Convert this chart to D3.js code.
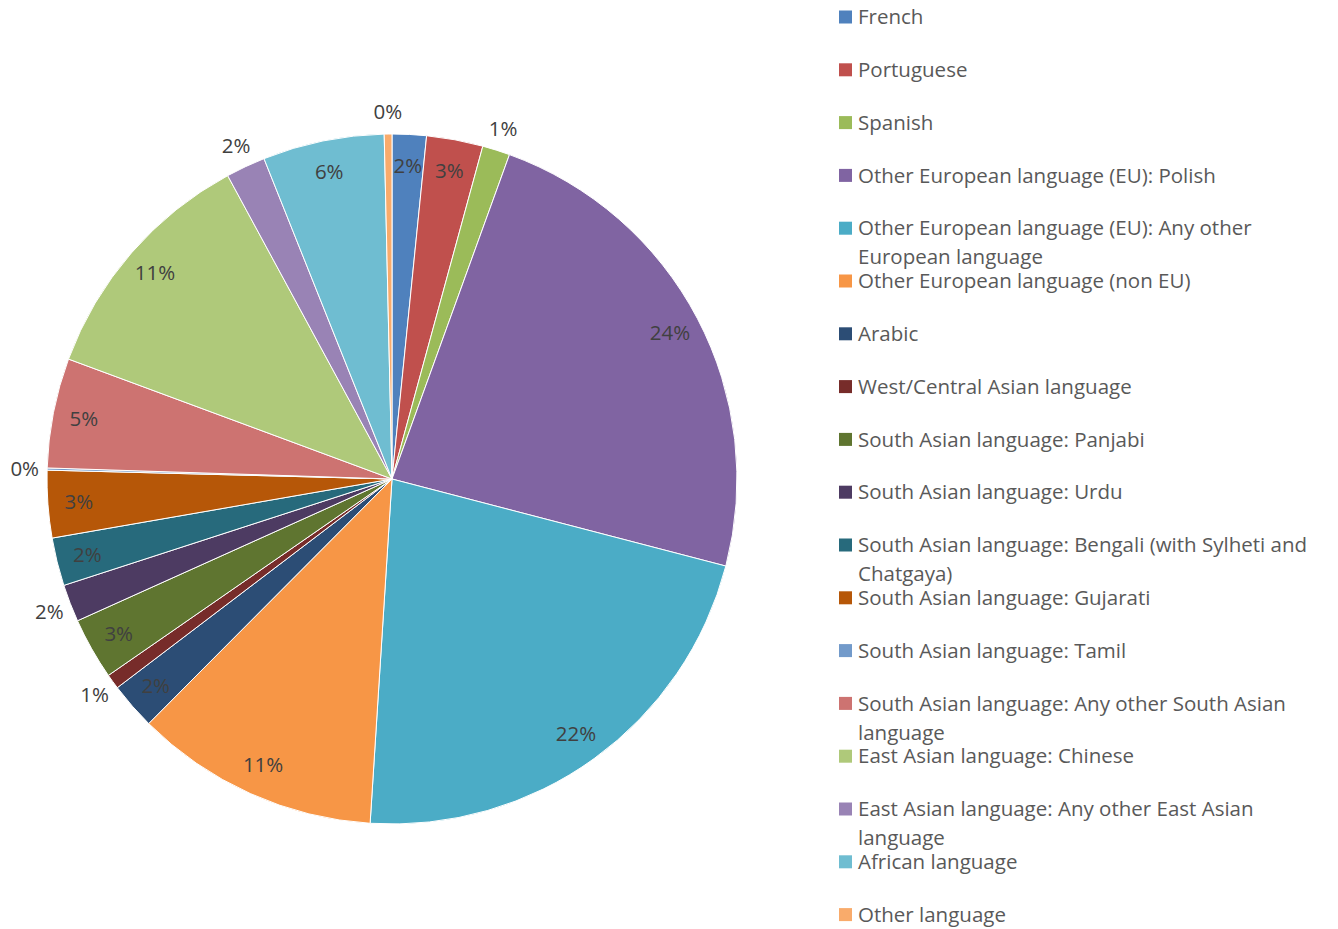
<!DOCTYPE html>
<html lang="en">
<head>
    <meta charset="UTF-8">
    <title>Languages pie</title>
    <script src="https://d3js.org/d3.v7.min.js"></script>
    <style>
        body { margin: 0; background: #fff; }
        svg { font-family: "Open Sans", Lato, sans-serif; }
        .legend text { fill: #595959; font-size: 20.5px; }
        .slice-label { fill: #404040; font-size: 20.5px; }
    </style>
</head>
<body>
<div id="chart"></div>
<script>
    const categories = [
        "French", "Portuguese", "Spanish",
        "Other European language (EU): Polish",
        "Other European language (EU): Any other European language",
        "Other European language (non EU)",
        "Arabic", "West/Central Asian language",
        "South Asian language: Panjabi", "South Asian language: Urdu",
        "South Asian language: Bengali (with Sylheti and Chatgaya)",
        "South Asian language: Gujarati", "South Asian language: Tamil",
        "South Asian language: Any other South Asian language",
        "East Asian language: Chinese",
        "East Asian language: Any other East Asian language",
        "African language", "Other language"
    ];
    const shares = [1.6, 2.64, 1.29, 23.53, 21.95, 11.45, 2.2, 0.7, 2.9, 1.75,
                    2.25, 3.15, 0.1, 5.14, 11.45, 1.85, 5.69, 0.36];
    const colors = ["#4F81BD", "#C0504D", "#9BBB59", "#8064A2", "#4BACC6", "#F79646",
                    "#2C4D75", "#772C2A", "#5F7530", "#4D3B62", "#276A7C", "#B65708",
                    "#729ACA", "#CD7371", "#AFC97A", "#9983B5", "#6FBDD1", "#F9AB6B"];
    // small slices whose label sits outside the pie
    const outsideLabels = ["Spanish", "West/Central Asian language", "South Asian language: Urdu",
                           "South Asian language: Tamil",
                           "East Asian language: Any other East Asian language", "Other language"];

    const width = 1338, height = 929;
    const cx = 392, cy = 479, radius = 345;

    const data = categories.map((c, i) => ({ name: c, value: shares[i] }));
    const total = d3.sum(shares);

    const svg = d3.select("#chart").append("svg")
        .attr("width", width)
        .attr("height", height);

    const color = d3.scaleOrdinal().domain(categories).range(colors);

    const pie = d3.pie().value(d => d.value).sort(null);
    const arc = d3.arc().innerRadius(0).outerRadius(radius);
    const inLabel = d3.arc().innerRadius(radius * 0.91).outerRadius(radius * 0.91);
    const outLabel = d3.arc().innerRadius(radius * 1.065).outerRadius(radius * 1.065);

    const g = svg.append("g").attr("transform", `translate(${cx},${cy})`);
    const arcs = pie(data);

    g.selectAll("path.slice")
        .data(arcs)
        .enter().append("path")
        .attr("class", "slice")
        .attr("d", arc)
        .attr("fill", d => color(d.data.name))
        .attr("stroke", "#fff")
        .attr("stroke-width", 1);

    g.selectAll("text.slice-label")
        .data(arcs)
        .enter().append("text")
        .attr("class", "slice-label")
        .attr("transform", d => {
            const a = outsideLabels.includes(d.data.name) ? outLabel : inLabel;
            return `translate(${a.centroid(d)})`;
        })
        .attr("text-anchor", "middle")
        .attr("dy", "0.35em")
        .text(d => Math.round(d.data.value / total * 100) + "%");

    // legend
    const legendX = 839, legendY = 17, rowH = 52.8, maxW = 462;
    const legend = svg.append("g").attr("class", "legend");
    const items = legend.selectAll("g")
        .data(categories)
        .enter().append("g")
        .attr("transform", (d, i) => `translate(${legendX},${legendY + i * rowH})`);

    items.append("rect")
        .attr("x", 0).attr("y", -6.5)
        .attr("width", 13).attr("height", 13)
        .attr("fill", d => color(d));

    items.append("text")
        .each(function (d) {
            const text = d3.select(this);
            const words = d.split(" ");
            let line = [];
            let tspan = text.append("tspan").attr("x", 19).attr("dy", "0.35em");
            words.forEach(w => {
                line.push(w);
                tspan.text(line.join(" "));
                if (tspan.node().getComputedTextLength() > maxW && line.length > 1) {
                    line.pop();
                    tspan.text(line.join(" "));
                    line = [w];
                    tspan = text.append("tspan").attr("x", 19).attr("dy", 29).text(w);
                }
            });
        });
</script>
</body>
</html>
